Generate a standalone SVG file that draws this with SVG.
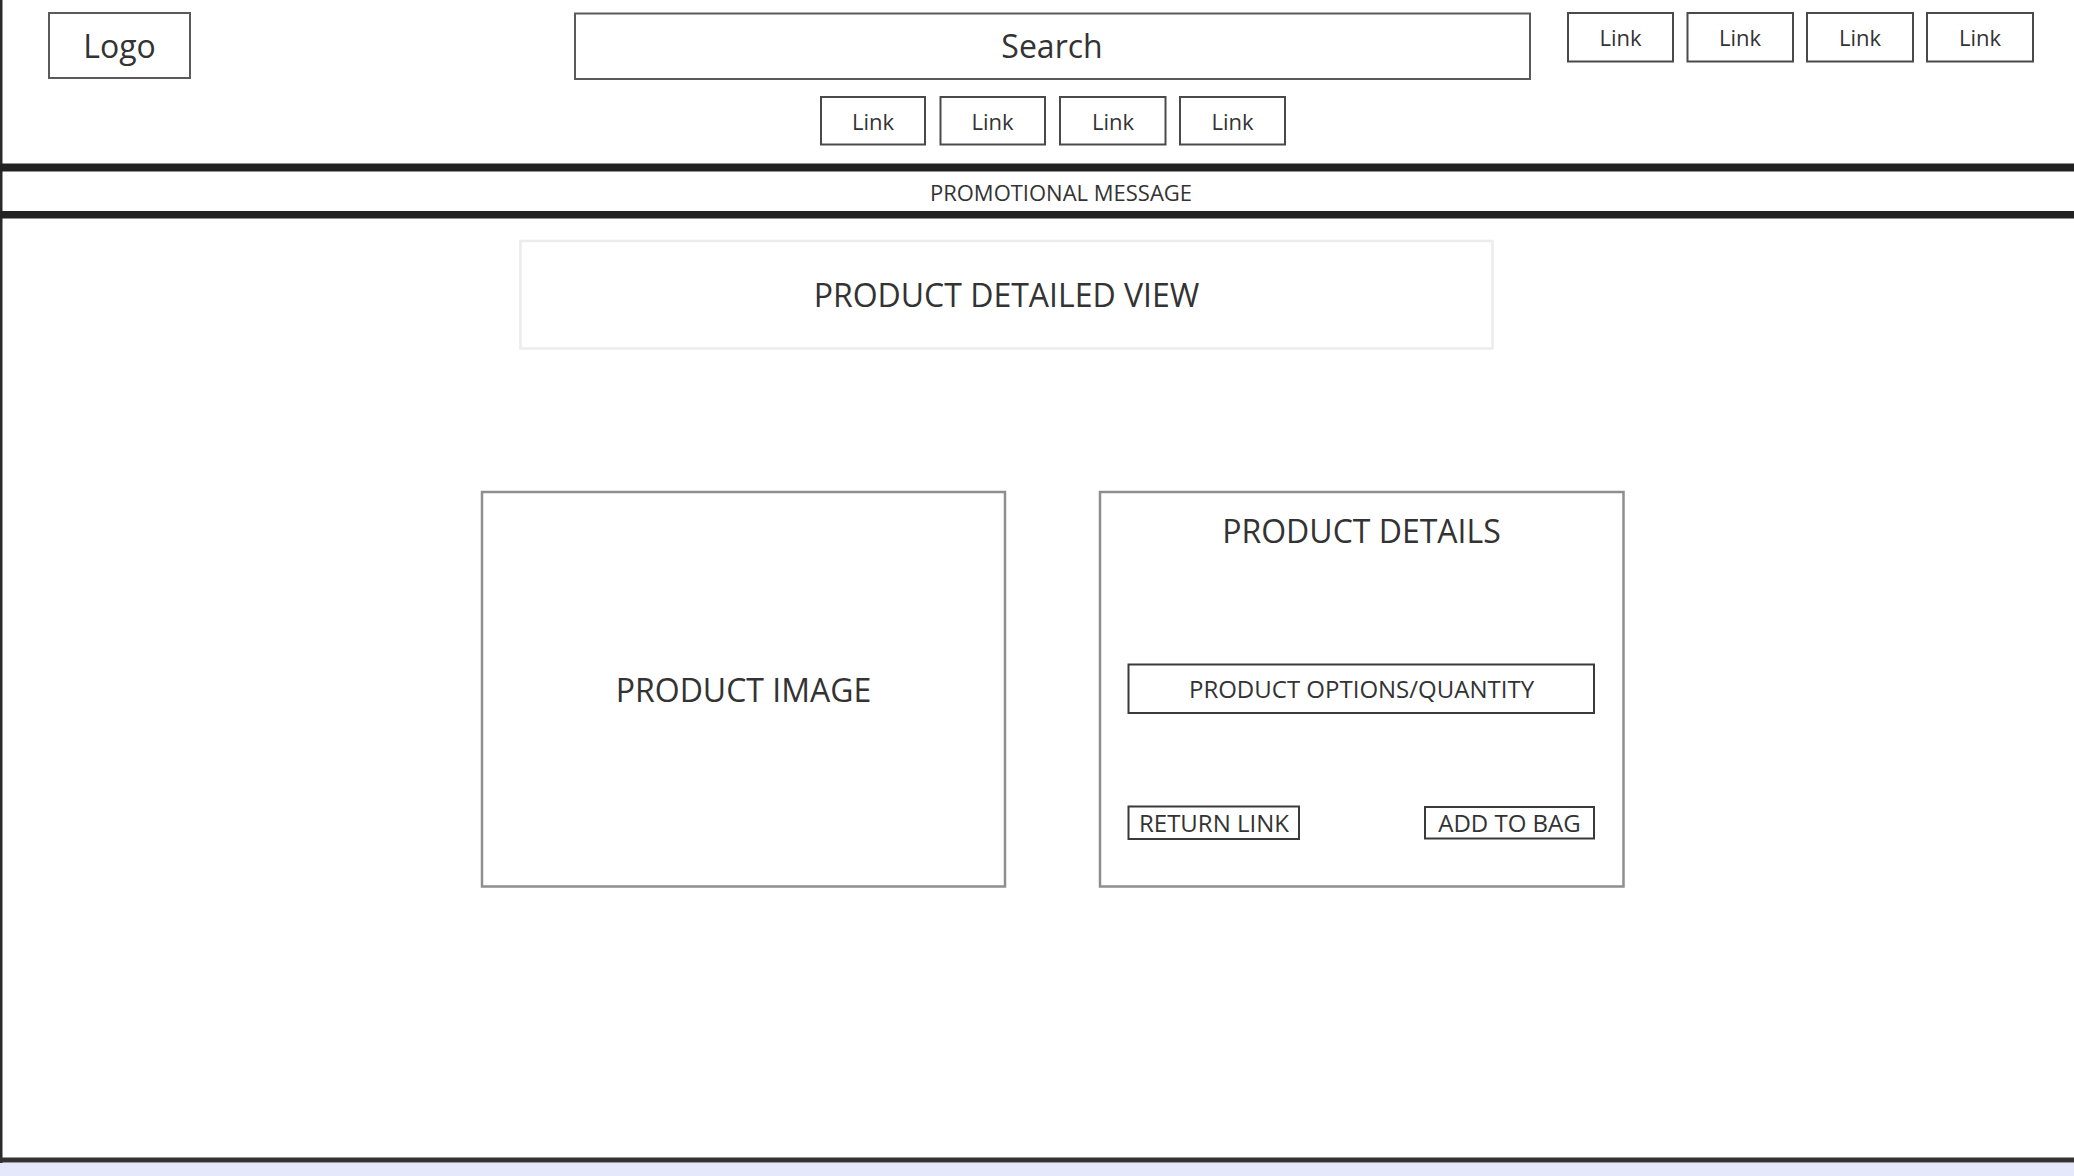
<svg xmlns="http://www.w3.org/2000/svg" width="2074" height="1176" viewBox="0 0 2074 1176">
<style>
text{font-family:"Open Sans","Liberation Sans",sans-serif;fill:#333;text-anchor:middle}
.hdr{fill:#fff;stroke:#5a5a5a;stroke-width:2}
.lnk{fill:#fff;stroke:#4a4a4a;stroke-width:2}
.big{fill:#fff;stroke:#8e8e8e;stroke-width:2.5}
.pale{fill:#fff;stroke:#ececec;stroke-width:2.5}
.ctl{fill:#fff;stroke:#3a3a3a;stroke-width:2}
.bar{fill:#222}
.t32{font-size:32px}
.t22{font-size:22px}
.t24{font-size:24px}
</style>
<rect x="0" y="0" width="2074" height="1176" fill="#fff"/>
<g id="frame">
<rect x="0" y="1163" width="2074" height="13" fill="#e5e8fa"/>
<rect x="0" y="0" width="2.5" height="1163" fill="#2a2a2a"/>
<rect class="bar" x="0" y="163.5" width="2074" height="8"/>
<rect class="bar" x="0" y="211" width="2074" height="7.5"/>
<rect x="0" y="1157.5" width="2074" height="5" fill="#333"/>
</g>
<g id="logo"><rect class="hdr" x="49" y="13" width="141" height="65"/><text class="t32" x="119.5" y="58">Logo</text></g>
<g id="search"><rect class="hdr" x="575" y="13.5" width="955" height="65.5"/><text class="t32" x="1052" y="58">Search</text></g>
<g id="link-top-1"><rect class="lnk" x="1568" y="13" width="105" height="48.5"/><text class="t22" x="1620.5" y="46">Link</text></g>
<g id="link-top-2"><rect class="lnk" x="1687.5" y="13" width="105.5" height="48.5"/><text class="t22" x="1740" y="46">Link</text></g>
<g id="link-top-3"><rect class="lnk" x="1807" y="13" width="106" height="48.5"/><text class="t22" x="1860" y="46">Link</text></g>
<g id="link-top-4"><rect class="lnk" x="1927" y="13" width="106" height="48.5"/><text class="t22" x="1980" y="46">Link</text></g>
<g id="link-nav-1"><rect class="lnk" x="821" y="97" width="104" height="47.5"/><text class="t22" x="873" y="130">Link</text></g>
<g id="link-nav-2"><rect class="lnk" x="940.5" y="97" width="104.5" height="47.5"/><text class="t22" x="992.5" y="130">Link</text></g>
<g id="link-nav-3"><rect class="lnk" x="1060" y="97" width="105.5" height="47.5"/><text class="t22" x="1113" y="130">Link</text></g>
<g id="link-nav-4"><rect class="lnk" x="1180" y="97" width="105" height="47.5"/><text class="t22" x="1232.5" y="130">Link</text></g>
<g id="promo"><text class="t22" x="1061" y="200.5">PROMOTIONAL MESSAGE</text></g>
<g id="title"><rect class="pale" x="520.5" y="241" width="972" height="107.5"/><text class="t32" x="1006.5" y="306.5">PRODUCT DETAILED VIEW</text></g>
<g id="product-image"><rect class="big" x="482" y="492" width="523" height="394.5"/><text class="t32" x="743.5" y="702">PRODUCT IMAGE</text></g>
<g id="product-details"><rect class="big" x="1100" y="492" width="523.5" height="394.5"/><text class="t32" x="1361.5" y="543">PRODUCT DETAILS</text></g>
<g id="options"><rect class="ctl" x="1128.5" y="664.5" width="465.5" height="48.5"/><text class="t24" x="1361.5" y="697.5">PRODUCT OPTIONS/QUANTITY</text></g>
<g id="return-link"><rect class="ctl" x="1128.5" y="806.5" width="170.5" height="32.5"/><text class="t24" x="1214" y="832">RETURN LINK</text></g>
<g id="add-to-bag"><rect class="ctl" x="1425" y="807" width="169" height="31.5"/><text class="t24" x="1509.5" y="832">ADD TO BAG</text></g>
<g id="connectors"/>
</svg>
